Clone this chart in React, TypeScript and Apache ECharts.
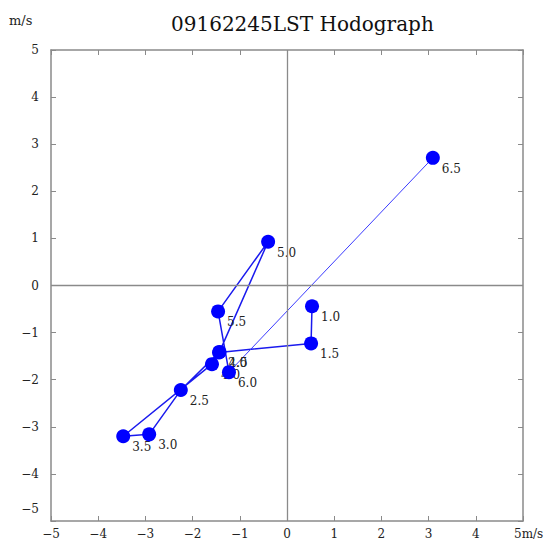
import React, { useEffect, useRef } from "react";
import * as echarts from "echarts";

const heights = ["1.0", "1.5", "2.0", "2.5", "3.0", "3.5", "4.0", "4.5", "5.0", "5.5", "6.0", "6.5"];
const uWind = [0.53, 0.51, -1.44, -2.25, -2.92, -3.47, -1.59, -1.43, -0.40, -1.46, -1.23, 3.09];
const vWind = [-0.44, -1.23, -1.42, -2.22, -3.16, -3.20, -1.67, -1.41, 0.93, -0.55, -1.84, 2.71];

const SERIF = "DejaVu Serif";

export default function App() {
  const ref = useRef<HTMLDivElement>(null);
  useEffect(() => {
    if (!ref.current) return;
    const chart = echarts.init(ref.current, undefined, { renderer: "svg" });
    const pts = heights.map((h, i) => ({ value: [uWind[i], vWind[i]], name: h }));
    const frameColor = "#8a8a8a";
    const labelStyle = { color: "#222", fontFamily: SERIF, fontSize: 12 };
    const hidden = { show: false };
    const baseAxis = {
      type: "value" as const,
      min: -5,
      max: 5,
      interval: 1,
      splitLine: hidden,
      axisLine: { show: true, onZero: false, lineStyle: { color: frameColor, width: 1.5 } },
      axisTick: { show: true, inside: true, length: 5, lineStyle: { color: frameColor, width: 1 } },
    };
    const pointLabel = {
      show: true,
      position: [10, 6],
      formatter: (p: any) => p.name,
      ...labelStyle,
    };
    chart.setOption({
      animation: false,
      backgroundColor: "#fff",
      title: {
        text: "09162245LST Hodograph",
        left: 166,
        top: 9,
        textStyle: { fontFamily: SERIF, fontSize: 20, fontWeight: "normal", color: "#111" },
      },
      grid: { left: 51, right: 30, top: 50, bottom: 18 },
      xAxis: [
        {
          ...baseAxis,
          position: "bottom",
          axisLabel: {
            ...labelStyle,
            margin: 7,
            formatter: (v: number) => (v === 5 ? "" : String(v).replace("-", "−")),
          },
        },
        { ...baseAxis, position: "top", axisLabel: hidden },
      ],
      yAxis: [
        {
          ...baseAxis,
          position: "left",
          axisLabel: {
            ...labelStyle,
            margin: 12,
            formatter: (v: number) => (v === -5 ? "" : String(v).replace("-", "−")),
          },
        },
        { ...baseAxis, position: "right", axisLabel: hidden },
      ],
      graphic: [
        { type: "text", left: 9, top: 14, style: { text: "m/s", font: `13px '${SERIF}'`, fill: "#222" } },
        { type: "text", left: 514, top: 528, style: { text: "5m/s", font: `12px '${SERIF}'`, fill: "#222" } },
        { type: "text", right: 553 - 39, top: 503, style: { text: "−5", font: `12px '${SERIF}'`, fill: "#222", align: "right" } },
      ],
      series: [
        {
          type: "line",
          data: pts.slice(0, 11),
          symbol: "circle",
          symbolSize: 2,
          showSymbol: true,
          itemStyle: { color: "rgba(0,0,0,0)" },
          lineStyle: { color: "#1a1aee", width: 1.5 },
          label: pointLabel,
          markLine: {
            silent: true,
            symbol: "none",
            label: hidden,
            lineStyle: { color: frameColor, width: 1.3, type: "solid" },
            data: [{ xAxis: 0 }, { yAxis: 0 }],
          },
          z: 2,
        },
        {
          type: "line",
          data: pts.slice(10),
          symbol: "circle",
          symbolSize: 2,
          showSymbol: true,
          itemStyle: { color: "rgba(0,0,0,0)" },
          lineStyle: { color: "#3b3bff", width: 1 },
          label: { ...pointLabel, formatter: (p: any) => (p.name === "6.5" ? p.name : "") },
          z: 2,
        },
        {
          type: "scatter",
          data: pts,
          symbol: "circle",
          symbolSize: 14,
          itemStyle: { color: "#0000ff", opacity: 1 },
          z: 6,
        },
      ],
    });
    return () => chart.dispose();
  }, []);
  return (
    <div
      ref={ref}
      style={{ position: "fixed", left: 0, top: 0, width: 553, height: 540, background: "#fff" }}
    />
  );
}
